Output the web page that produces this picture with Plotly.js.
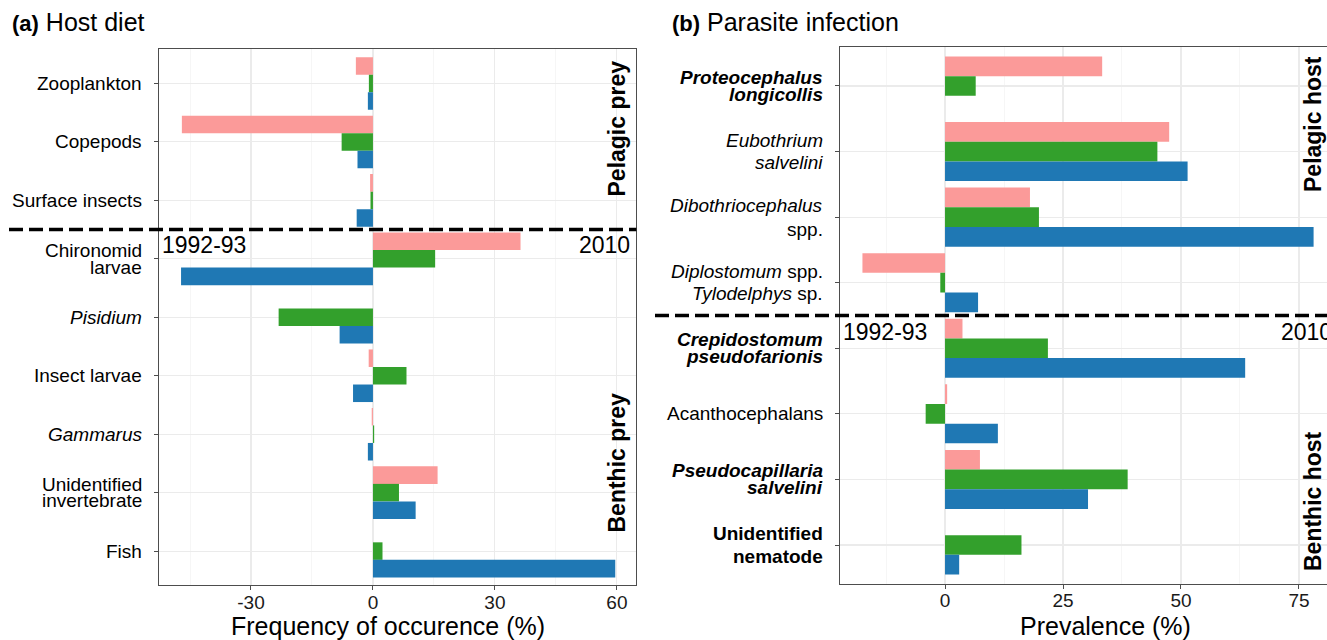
<!DOCTYPE html>
<html>
<head>
<meta charset="utf-8">
<script src="https://cdn.plot.ly/plotly-3.0.1.min.js"></script>
<style>
  html, body { margin: 0; padding: 0; overflow: hidden; background: #fff; }
  #chart { width: 1340px; height: 640px; }
</style>
</head>
<body>
<div id="chart"></div>
<script>
// ---------------- DATA ----------------
const seriesNames = ["Series 1", "Series 2", "Series 3"];

// (a) Host diet
const dietCategories = ["Zooplankton", "Copepods", "Surface insects", "Chironomid larvae", "Pisidium",
  "Insect larvae", "Gammarus", "Unidentified invertebrate", "Fish"];
const dietPink  = [-4.2, -47.0, -0.7, 36.3, 0, -1.05, -0.3, 15.9, 0];
const dietGreen = [-1.0, -7.7, -0.6, 15.3, -23.2, 8.25, 0.3, 6.4, 2.35];
const dietBlue  = [-1.25, -3.8, -4.0, -47.2, -8.2, -4.9, -1.25, 10.5, 59.6];
const dietTickLines = [["Zooplankton"], ["Copepods"], ["Surface insects"], ["Chironomid", "larvae"],
  ["<i>Pisidium</i>"], ["Insect larvae"], ["<i>Gammarus</i>"], ["Unidentified", "invertebrate"], ["Fish"]];
const dietXTicks = [-30, 0, 30, 60];

// (b) Parasite infection
const parasiteCategories = ["Proteocephalus longicollis", "Eubothrium salvelini", "Dibothriocephalus spp.",
  "Diplostomum spp. / Tylodelphys sp.", "Crepidostomum pseudofarionis", "Acanthocephalans",
  "Pseudocapillaria salvelini", "Unidentified nematode"];
const parasitePink  = [33.3, 47.5, 18.0, -17.5, 3.7, 0.45, 7.4, 0];
const parasiteGreen = [6.5, 45.0, 19.9, -1.0, 21.8, -4.1, 38.7, 16.2];
const parasiteBlue  = [0, 51.4, 78.1, 7.0, 63.6, 11.2, 30.3, 3.0];
const parasiteTickLines = [
  ["<b><i>Proteocephalus</i></b>", "<b><i>longicollis</i></b>"],
  ["<i>Eubothrium</i>", "<i>salvelini</i>"],
  ["<i>Dibothriocephalus</i>", "spp."],
  ["<i>Diplostomum</i> spp.", "<i>Tylodelphys</i> sp."],
  ["<b><i>Crepidostomum</i></b>", "<b><i>pseudofarionis</i></b>"],
  ["Acanthocephalans"],
  ["<b><i>Pseudocapillaria</i></b>", "<b><i>salvelini</i></b>"],
  ["<b>Unidentified</b>", "<b>nematode</b>"]];
const parasiteXTicks = [0, 25, 50, 75];

// ---------------- STYLE ----------------
const W = 1340, H = 640;
const px = x => x / W;
const py = y => 1 - y / H;
const FONT = "Liberation Sans, Arial, Helvetica, sans-serif";
const colors = ["#FB9A99", "#33A02C", "#1F78B4"];
const dietLineGap = [0, 0, 0, 16.5, 0, 0, 0, 16.5, 0];
const parasiteLineGap = [17, 21.7, 24, 22.3, 17, 0, 17, 23];

function bars(values, cats, i, xa, ya) {
  return {
    type: "bar", orientation: "h", name: seriesNames[i],
    x: values, y: cats, xaxis: xa, yaxis: ya,
    marker: { color: colors[i], line: { width: 0 } },
    showlegend: false, hoverinfo: "x+y+name"
  };
}

const data = [
  bars(dietPink, dietCategories, 0, "x", "y"),
  bars(dietGreen, dietCategories, 1, "x", "y"),
  bars(dietBlue, dietCategories, 2, "x", "y"),
  bars(parasitePink, parasiteCategories, 0, "x2", "y2"),
  bars(parasiteGreen, parasiteCategories, 1, "x2", "y2"),
  bars(parasiteBlue, parasiteCategories, 2, "x2", "y2")
];

const frame = {
  showline: true, mirror: true, linecolor: "#4d4d4d", linewidth: 1,
  ticks: "outside", ticklen: 4, tickcolor: "#4d4d4d", tickwidth: 1,
  zeroline: false, automargin: false, fixedrange: true
};

function xAxis(domain, range, tickvals, minorStep, anchor) {
  return Object.assign({}, frame, {
    domain: domain, range: range, anchor: anchor,
    tickmode: "array", tickvals: tickvals, ticktext: tickvals.map(String),
    ticklabelstandoff: -4,
    showgrid: true, gridcolor: "#EBEBEB", gridwidth: 1.1,
    minor: { tickmode: "linear", tick0: 0, dtick: minorStep, showgrid: true, gridcolor: "#F0F0F0", gridwidth: 0.6, ticks: "" },
    tickfont: { family: FONT, size: 19, color: "#1a1a1a" }
  });
}
function yAxis(domain, range, cats, anchor) {
  return Object.assign({}, frame, {
    domain: domain, range: range, anchor: anchor,
    type: "category", categoryorder: "array", categoryarray: cats,
    showgrid: true, gridcolor: "#EBEBEB", gridwidth: 1.1,
    showticklabels: false
  });
}

const annotations = [];
function tickLabels(lines, cats, gaps, yref, xPix) {
  lines.forEach((ls, k) => {
    const n = ls.length;
    ls.forEach((t, j) => {
      annotations.push({
        text: t, xref: "paper", x: px(xPix), xanchor: "right",
        yref: yref, y: cats[k], yanchor: "middle",
        yshift: -(j - (n - 1) / 2) * gaps[k],
        showarrow: false, align: "right", borderpad: 0,
        font: { family: FONT, size: 19, color: "#000" }
      });
    });
  });
}
tickLabels(dietTickLines, dietCategories, dietLineGap, "y", 143);
tickLabels(parasiteTickLines, parasiteCategories, parasiteLineGap, "y2", 824);

function note(text, xp, yp, xanchor, size, extra) {
  annotations.push(Object.assign({
    text: text, xref: "paper", yref: "paper", x: px(xp), y: py(yp),
    xanchor: xanchor, yanchor: "middle", showarrow: false,
    font: { family: FONT, size: size, color: "#000" }
  }, extra || {}));
}
// panel titles
note('<span style="font-weight:bold;font-size:22px">(a)</span> Host diet', 10, 22, "left", 25);
note('<span style="font-weight:bold;font-size:22px">(b)</span> Parasite infection', 670, 22, "left", 25);
// axis titles
note("Frequency of occurence (%)", 388, 626, "center", 25);
note("Prevalence (%)", 1105, 626, "center", 25);
// period labels
note("1992-93", 160, 245, "left", 23);
note("2010", 632, 245, "right", 23);
note("1992-93", 841, 332, "left", 23);
note("2010", 1279, 332, "left", 23);
// habitat strips
const stripStyle = { textangle: -90 };
note("<b>Pelagic prey</b>", 616, 128.5, "center", 23, stripStyle);
note("<b>Benthic prey</b>", 616, 462.5, "center", 23, stripStyle);
note("<b>Pelagic host</b>", 1313, 124, "center", 23, stripStyle);
note("<b>Benthic host</b>", 1313, 501, "center", 23, stripStyle);

const dashLine = { color: "#000", width: 3.5, dash: "14px,6px" };
const shapes = [
  { type: "line", xref: "paper", x0: px(9), x1: px(636.4), yref: "y", y0: 2.5, y1: 2.5, line: dashLine, layer: "above" },
  { type: "line", xref: "paper", x0: px(655), x1: 1, yref: "y2", y0: 3.5, y1: 3.5, line: dashLine, layer: "above" }
];

const layout = {
  width: W, height: H, autosize: false,
  margin: { l: 0, r: 0, t: 0, b: 0, pad: 0 },
  paper_bgcolor: "#fff", plot_bgcolor: "#fff",
  font: { family: FONT, color: "#000" },
  barmode: "group", bargap: 0.1, bargroupgap: 0,
  showlegend: false,
  xaxis: xAxis([px(159.1), px(636.4)], [-52.6, 64.8], dietXTicks, 15, "y"),
  yaxis: yAxis([py(585), py(49.3)], [8.58, -0.585], dietCategories, "x"),
  xaxis2: xAxis([px(839.5), px(1332)], [-22.36, 82.0], parasiteXTicks, 12.5, "y2"),
  yaxis2: yAxis([py(583.5), py(46.7)], [7.587, -0.599], parasiteCategories, "x2"),
  annotations: annotations,
  shapes: shapes
};

Plotly.newPlot("chart", data, layout, { displayModeBar: false, staticPlot: true });
</script>
</body>
</html>
